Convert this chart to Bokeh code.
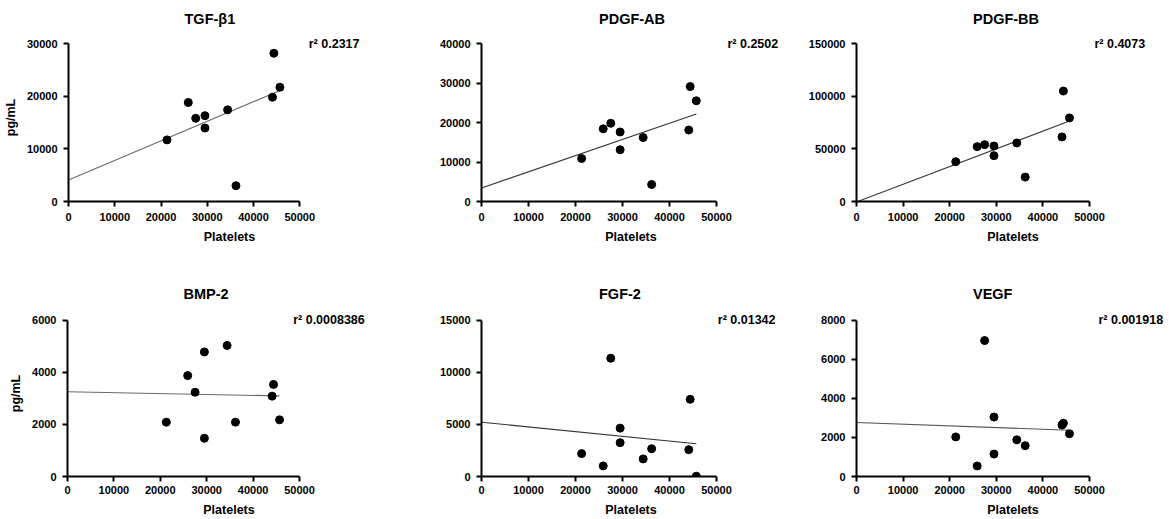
import numpy as np
from bokeh.plotting import figure
from bokeh.layouts import column, row
from bokeh.models import Range1d, FixedTicker, NumeralTickFormatter, Label
from bokeh.embed import file_html
from bokeh.resources import INLINE

# ---------------- data ----------------
platelets = [21300, 25900, 27500, 29500, 29500, 34400, 36200, 44100, 44400, 45700]
tgf_b1 = [11700, 18800, 15800, 16300, 13950, 17400, 3000, 19800, 28150, 21700]
pdgf_ab = [10900, 18400, 19800, 17600, 13100, 16200, 4300, 18100, 29100, 25500]
pdgf_bb = [37800, 52100, 54000, 52700, 43500, 55600, 23200, 61300, 104900, 79400]
bmp_2 = [2090, 3880, 3240, 4790, 1470, 5040, 2090, 3090, 3540, 2180]
fgf_2 = [2200, 1020, 11370, 4650, 3250, 1690, 2670, 2580, 7420, 30]
vegf = [2030, 540, 6970, 3050, 1150, 1880, 1580, 2640, 2730, 2190]

titles = ["TGF-β1", "PDGF-AB", "PDGF-BB", "BMP-2", "FGF-2", "VEGF"]
series = [tgf_b1, pdgf_ab, pdgf_bb, bmp_2, fgf_2, vegf]
r2_labels = ["0.2317", "0.2502", "0.4073", "0.0008386", "0.01342", "0.001918"]
y_max = [30000, 40000, 150000, 6000, 15000, 8000]
y_ticks = [[0, 10000, 20000, 30000], [0, 10000, 20000, 30000, 40000],
           [0, 50000, 100000, 150000], [0, 2000, 4000, 6000],
           [0, 5000, 10000, 15000], [0, 2000, 4000, 6000, 8000]]
x_max = 50000
x_ticks = [0, 10000, 20000, 30000, 40000, 50000]

# ---------------- layout ----------------
FONT = "Liberation Sans"
col_w = [390, 390, 389]
col_left = [67, 91, 76]          # left border (frame left edge)
data_w = [232, 235, 233]         # pixels spanning 0..50000
row_h = [256, 263]
row_top = [33, 54.5]             # top border
data_h = [157.6, 156.3]          # pixels spanning 0..ymax
ext_top = 10                     # extra frame room above ymax
title_standoff = [14, 18]
label_standoff = [6, 4]
r2_x = [51940, 52340, 51070, 48640, 50280, 51930]
line_colors = ["#6a6a6a", "#333333", "#333333", "#6a6a6a", "#333333", "#555555"]


def make_panel(i):
    r, c = divmod(i, 3)
    W, H = col_w[c], row_h[r]
    frame_w = W - col_left[c]
    frame_h = data_h[r] + ext_top
    x_end = x_max * frame_w / data_w[c]
    y_end = y_max[i] * frame_h / data_h[r]
    p = figure(width=W, height=H, output_backend="svg", toolbar_location=None,
               x_range=Range1d(0, x_end), y_range=Range1d(0, y_end),
               min_border_left=col_left[c], min_border_right=0,
               min_border_top=int(round(row_top[r])),
               min_border_bottom=int(H - round(row_top[r]) - frame_h))
    p.outline_line_color = None
    p.grid.visible = False
    p.background_fill_color = "white"
    p.border_fill_color = "white"

    p.title.text = titles[i]
    p.title.align = "left"
    p.title.offset = data_w[c] / 2
    p.title.text_align = "center"
    p.title.text_font = FONT
    p.title.text_font_size = "14.5px"
    p.title.text_font_style = "bold"
    p.title.text_color = "black"
    p.title.standoff = title_standoff[r]

    for ax in (p.xaxis[0], p.yaxis[0]):
        ax.axis_line_width = 2
        ax.axis_line_color = "black"
        ax.major_tick_line_width = 2
        ax.major_tick_line_color = "black"
        ax.major_tick_out = 5
        ax.major_tick_in = 0
        ax.minor_tick_line_color = None
        ax.major_label_text_font = FONT
        ax.major_label_text_font_size = "11px"
        ax.major_label_text_font_style = "bold"
        ax.major_label_text_color = "black"
        ax.major_label_standoff = 6
        ax.axis_label_text_font = FONT
        ax.axis_label_text_font_size = "12.5px"
        ax.axis_label_text_font_style = "bold"
        ax.axis_label_text_color = "black"
        ax.axis_label_standoff = 6
        ax.formatter = NumeralTickFormatter(format="0")

    p.xaxis.major_label_standoff = label_standoff[r]
    p.xaxis.ticker = FixedTicker(ticks=x_ticks)
    p.xaxis.bounds = (0, x_max)
    p.yaxis.ticker = FixedTicker(ticks=y_ticks[i])
    p.yaxis.bounds = (0, y_max[i])
    p.xaxis.axis_label = "Platelets"
    if c == 0:
        p.yaxis.axis_label = "pg/mL"

    ys = series[i]
    slope, intercept = np.polyfit(platelets, ys, 1)
    xl = [0, max(platelets)]
    p.line(xl, [intercept + slope * v for v in xl], line_color=line_colors[i], line_width=1.1)
    p.scatter(platelets, ys, size=8, color="black")

    p.add_layout(Label(x=r2_x[i], y=y_max[i], text="r² " + r2_labels[i],
                       text_font=FONT, text_font_size="12.5px", text_font_style="bold",
                       text_color="black", text_baseline="middle", text_align="left"))
    return p


panels = [make_panel(i) for i in range(6)]
layout = column(row(*panels[:3]), row(*panels[3:]))
open("out.html", "w").write(file_html(layout, INLINE))
